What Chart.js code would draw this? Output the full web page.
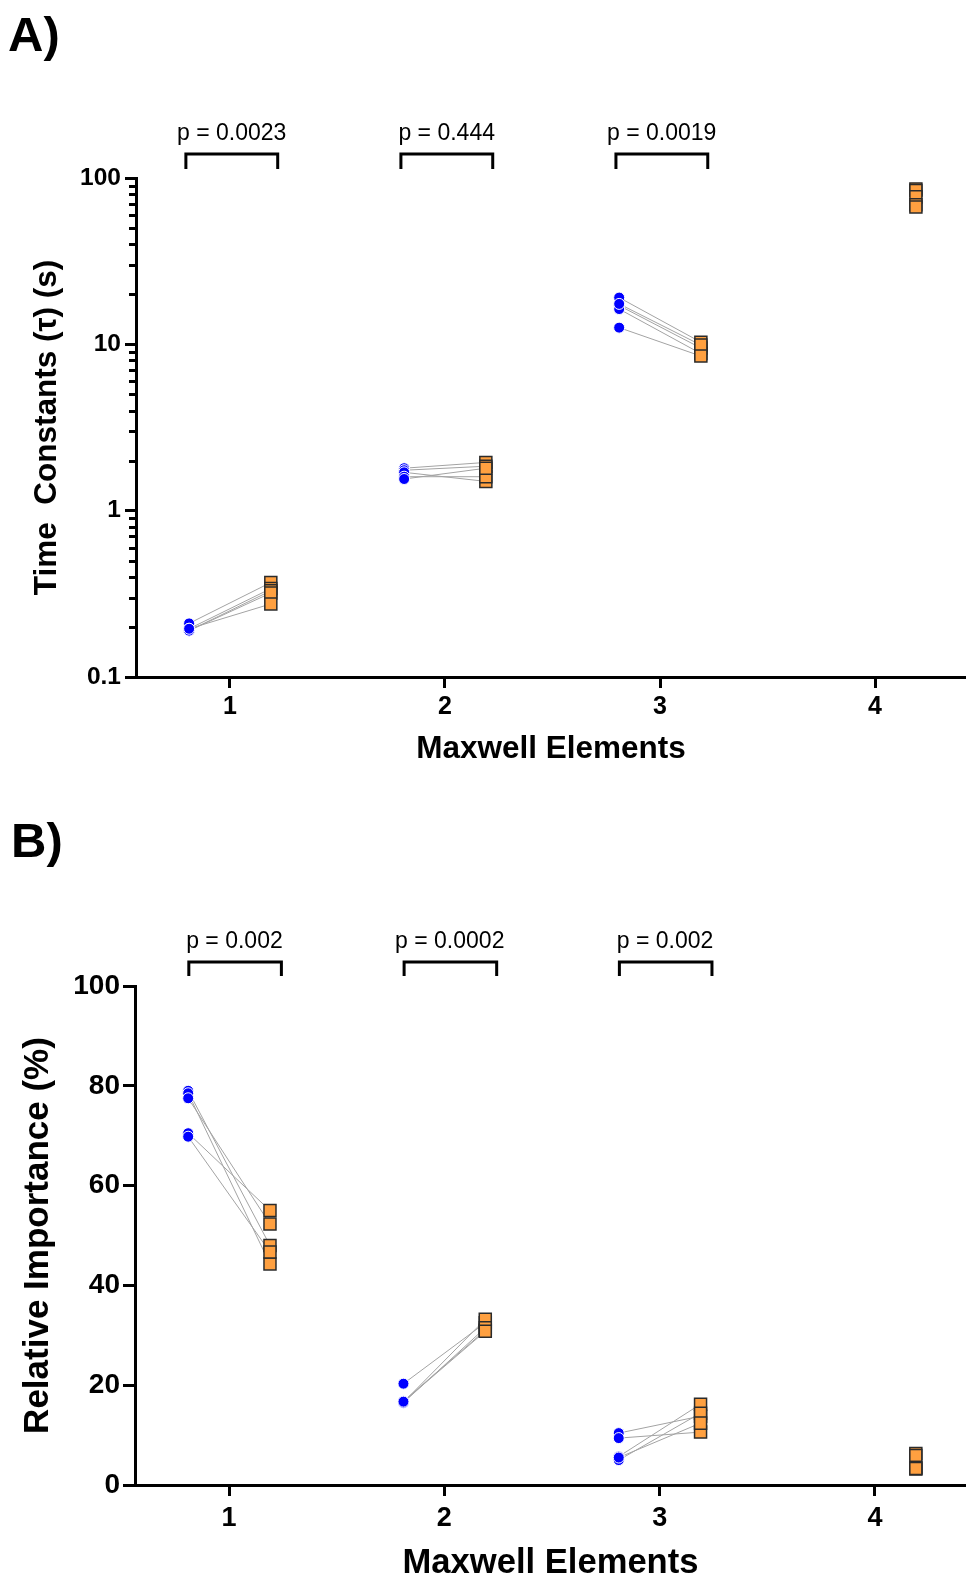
<!DOCTYPE html>
<html>
<head>
<meta charset="utf-8">
<title>Maxwell Elements</title>
<script src="https://cdn.jsdelivr.net/npm/chart.js@4.4.1/dist/chart.umd.min.js"></script>
<style>
  html, body { margin: 0; padding: 0; background: #fff; }
  body { width: 966px; height: 1581px; position: relative; overflow: hidden; }
  canvas { position: absolute; left: 0; }
  #panelA { top: 0; }
  #panelB { top: 790px; }
</style>
</head>
<body>
<canvas id="panelA" width="966" height="790"></canvas>
<canvas id="panelB" width="966" height="791"></canvas>
<script>
// Maxwell elements on the x axis, five subjects per element
const categories = [1, 2, 3, 4];
const xTickLabels = ['1', '2', '3', '4'];

// A) time constants (s) - blue circles (left) and orange squares (right)
const tauBlue = [
    [0.21, 0.195, 0.19, 0.19, 0.195],
    [1.8, 1.75, 1.7, 1.6, 1.55],
    [19.1, 17.1, 16.3, 17.5, 12.6]
];
const tauOrange = [
    [0.37, 0.34, 0.33, 0.32, 0.275],
    [1.95, 1.85, 1.5, 1.6, 1.8],
    [10.3, 9.5, 8.8, 9.9, 8.5],
    [86, 84, 77, 69, 67]
];
const tauTickLabels = ['0.1', '1', '10', '100'];
const tauMinorTicks = [0.2, 0.3, 0.4, 0.5, 0.6, 0.7, 0.8, 0.9,
    2, 3, 4, 5, 6, 7, 8, 9,
    20, 30, 40, 50, 60, 70, 80, 90];
const tauPValues = ['p = 0.0023', 'p = 0.444', 'p = 0.0019'];

// B) relative importance (%)
const impBlue = [
    [79, 78.5, 77.5, 70.5, 69.8],
    [20.3, 16.6, 16.8, 16.5, 16.7],
    [10.4, 9.4, 5.7, 5.0, 5.5]
];
const impOrange = [
    [48, 44.3, 52.3, 55, 46.7],
    [32.5, 33.2, 31, 31.5, 30.8],
    [13.8, 10.6, 16.2, 14.4, 12.4],
    [6.3, 5.9, 3.5, 3.2, 3.3]
];
const impTickLabels = ['0', '20', '40', '60', '80', '100'];
const impPValues = ['p = 0.002', 'p = 0.0002', 'p = 0.002'];

const FONT = "'Liberation Sans', Arial, Helvetica, sans-serif";
const SHIFT = 0.19; // horizontal offset of the two groups around each element

function boldFont(size, lineHeight) {
    return { family: FONT, size: size, weight: 'bold', lineHeight: lineHeight || 1.2 };
}

// points + the grey lines pairing each subject
function buildDatasets(blue, orange) {
    const sets = [
        {
            data: blue.flatMap((vals, c) => vals.map(v => ({ x: categories[c] - SHIFT, y: v }))),
            pointStyle: 'circle',
            pointRadius: 5.5,
            pointBackgroundColor: '#0000ff',
            pointBorderColor: '#ffffff',
            pointBorderWidth: 1,
            order: 0
        },
        {
            data: orange.flatMap((vals, c) => vals.map(v => ({ x: categories[c] + SHIFT, y: v }))),
            pointStyle: 'rect',
            pointRadius: 8.5,
            pointBackgroundColor: '#ffa040',
            pointBorderColor: '#2b2b2b',
            pointBorderWidth: 1.5,
            order: 1
        }
    ];
    blue.forEach((vals, c) => {
        vals.forEach((v, i) => {
            sets.push({
                data: [
                    { x: categories[c] - SHIFT, y: v },
                    { x: categories[c] + SHIFT, y: orange[c][i] }
                ],
                showLine: true,
                borderColor: '#a3a3a3',
                borderWidth: 1,
                pointRadius: 0,
                order: 2
            });
        });
    });
    return sets;
}

// panel letter, p-value brackets and minor log ticks
const annotate = {
    id: 'annotate',
    afterDraw(chart, args, o) {
        const { ctx, chartArea } = chart;
        const x = chart.scales.x;
        ctx.save();
        ctx.fillStyle = '#000';
        ctx.strokeStyle = '#000';

        ctx.font = 'bold 49px ' + FONT;
        ctx.textAlign = 'left';
        ctx.textBaseline = 'alphabetic';
        ctx.fillText(o.panel, o.panelX, o.panelY);

        ctx.lineWidth = 3;
        ctx.font = '23px ' + FONT;
        ctx.textAlign = 'center';
        o.pValues.forEach((label, i) => {
            const c = categories[i];
            const x1 = x.getPixelForValue(c - o.left);
            const x2 = x.getPixelForValue(c + o.right);
            const yb = chartArea.top - o.rise;
            ctx.beginPath();
            ctx.moveTo(x1, yb + o.leg);
            ctx.lineTo(x1, yb);
            ctx.lineTo(x2, yb);
            ctx.lineTo(x2, yb + o.leg);
            ctx.stroke();
            ctx.fillText(label, x.getPixelForValue(c + o.textShift), yb - o.gap);
        });

        if (o.minorTicks) {
            const y = chart.scales.y;
            o.minorTicks.forEach(v => {
                const py = Math.round(y.getPixelForValue(v)) + 0.5;
                ctx.beginPath();
                ctx.moveTo(chartArea.left - 1, py);
                ctx.lineTo(chartArea.left - 7, py);
                ctx.stroke();
            });
        }
        ctx.restore();
    }
};

function xAxis(tickSize, tickPad, height, titleSize, titlePad) {
    return {
        type: 'linear',
        position: 'bottom',
        min: 0.563,
        max: 4.423,
        afterBuildTicks: s => { s.ticks = categories.map(v => ({ value: v })); },
        afterFit: s => { s.height = height; },
        ticks: {
            callback: (v, i) => xTickLabels[i],
            font: boldFont(tickSize),
            color: '#000',
            padding: tickPad,
            maxRotation: 0,
            autoSkip: false
        },
        grid: { drawOnChartArea: false, tickLength: 11, tickWidth: 3, tickColor: '#000' },
        border: { color: '#000', width: 3 },
        title: {
            display: true,
            text: 'Maxwell Elements',
            color: '#000',
            font: boldFont(titleSize, 1),
            padding: { top: 0, bottom: titlePad }
        }
    };
}

new Chart(document.getElementById('panelA'), {
    type: 'scatter',
    data: { datasets: buildDatasets(tauBlue, tauOrange) },
    options: {
        responsive: false,
        animation: false,
        events: [],
        layout: { autoPadding: false, padding: { top: 178, left: 0, right: 0, bottom: 0 } },
        plugins: {
            legend: { display: false },
            tooltip: { enabled: false },
            annotate: {
                panel: 'A)', panelX: 8, panelY: 51,
                pValues: tauPValues,
                left: 0.205, right: 0.222, textShift: 0.008,
                rise: 24, leg: 15, gap: 14,
                minorTicks: tauMinorTicks
            }
        },
        scales: {
            x: xAxis(25, 4, 113, 31.5, 25),
            y: {
                type: 'logarithmic',
                min: 0.1,
                max: 100,
                afterBuildTicks: s => { s.ticks = tauTickLabels.map(t => ({ value: parseFloat(t) })); },
                afterFit: s => { s.width = 136; },
                ticks: {
                    callback: (v, i) => tauTickLabels[i],
                    font: boldFont(24.5),
                    color: '#000',
                    padding: 4,
                    autoSkip: false
                },
                grid: { drawOnChartArea: false, tickLength: 11, tickWidth: 3, tickColor: '#000' },
                border: { color: '#000', width: 3 },
                title: {
                    display: true,
                    text: 'Time  Constants (τ) (s)',
                    color: '#000',
                    font: boldFont(31.5, 1),
                    padding: { top: 32, bottom: 0 }
                }
            }
        }
    },
    plugins: [annotate]
});

new Chart(document.getElementById('panelB'), {
    type: 'scatter',
    data: { datasets: buildDatasets(impBlue, impOrange) },
    options: {
        responsive: false,
        animation: false,
        events: [],
        layout: { autoPadding: false, padding: { top: 196, left: 0, right: 0, bottom: 0 } },
        plugins: {
            legend: { display: false },
            tooltip: { enabled: false },
            annotate: {
                panel: 'B)', panelX: 11, panelY: 67,
                pValues: impPValues,
                left: 0.187, right: 0.243, textShift: 0.025,
                rise: 24, leg: 14, gap: 14,
                minorTicks: null
            }
        },
        scales: {
            x: xAxis(27, 6, 96, 34.6, 0),
            y: {
                type: 'linear',
                min: 0,
                max: 100,
                afterBuildTicks: s => { s.ticks = impTickLabels.map(t => ({ value: parseFloat(t) })); },
                afterFit: s => { s.width = 135; },
                ticks: {
                    callback: (v, i) => impTickLabels[i],
                    font: boldFont(28),
                    color: '#000',
                    padding: 3,
                    autoSkip: false
                },
                grid: { drawOnChartArea: false, tickLength: 12, tickWidth: 3, tickColor: '#000' },
                border: { color: '#000', width: 3 },
                title: {
                    display: true,
                    text: 'Relative Importance (%)',
                    color: '#000',
                    font: boldFont(35, 1),
                    padding: { top: 21, bottom: 0 }
                }
            }
        }
    },
    plugins: [annotate]
});
</script>
</body>
</html>
